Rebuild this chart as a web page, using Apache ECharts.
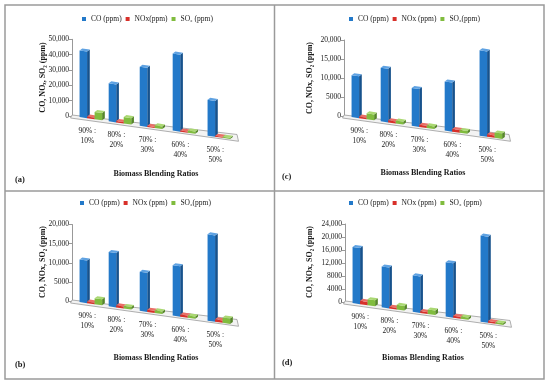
<!DOCTYPE html>
<html><head><meta charset="utf-8">
<script src="https://cdn.jsdelivr.net/npm/echarts/dist/echarts.min.js"></script>
<style>html,body{margin:0;padding:0;background:#fff}#c{width:550px;height:383px}</style>
</head><body><div id="c"></div>
<script>
// ---------- data ----------
const categories = ['90% :\n10%', '80% :\n20%', '70% :\n30%', '60% :\n40%', '50% :\n50%'];

const coA  = [42500, 23000, 34000, 42000, 18500];
const noxA = [1000, 900, 600, 700, 500];
const so2A = [4500, 3800, 1500, 1200, 600];

const coB  = [10900, 13200, 9000, 11000, 17900];
const noxB = [400, 500, 500, 500, 500];
const so2B = [1500, 600, 600, 500, 1100];

const coC  = [10800, 13100, 8800, 10800, 17800];
const noxC = [400, 500, 500, 600, 500];
const so2C = [1500, 700, 600, 600, 1100];

const coD  = [16900, 11700, 9900, 14000, 21000];
const noxD = [1000, 500, 500, 500, 400];
const so2D = [1800, 1300, 1200, 600, 400];

const tickLabelsA = ['0', '10,000', '20,000', '30,000', '40,000', '50,000'];
const tickLabelsB = ['0', '5000', '10,000', '15,000', '20,000'];
const tickLabelsC = ['0', '5000', '10,000', '15,000', '20,000'];
const tickLabelsD = ['0', '4000', '8000', '12,000', '16,000', '20,000', '24,000'];

const legendA = ['CO (ppm)', 'NOx(ppm)', 'SO\u2082 (ppm)'];
const legendB = ['CO (ppm)', 'NOx (ppm)', 'SO\u2082(ppm)'];
const legendC = ['CO (ppm)', 'NOx (ppm)', 'SO\u2082(ppm)'];
const legendD = ['CO (ppm)', 'NOx (ppm)', 'SO\u2082 (ppm)'];

const yTitleA = 'CO, NO\u2093, SO\u2082 (ppm)';
const yTitleOther = 'CO, NOx, SO\u2082 (ppm)';
const xTitleABC = 'Biomass Blending Ratios';
const xTitleD = 'Biomas Blending Ratios';

// ---------- layout ----------
const FONT = '"Liberation Serif", "Times New Roman", serif';
const panels = [
  {tag:'(a)', axisX:72,  y0:116, yTop:39.3, max:50000, interval:10000, ticks:tickLabelsA,
   co:coA, nox:noxA, so2:so2A, legend:legendA, legendLeft:82, legendTop:15,
   yTitle:yTitleA, yTitleX:43, yTitleY:77.5, xTitle:xTitleABC, xTitleX:156, xTitleY:174, tagX:15, tagY:180},
  {tag:'(c)', axisX:344, y0:116, yTop:40, max:20000, interval:5000, ticks:tickLabelsC,
   co:coC, nox:noxC, so2:so2C, legend:legendC, legendLeft:349, legendTop:15,
   yTitle:yTitleOther, yTitleX:310, yTitleY:78, xTitle:xTitleABC, xTitleX:423, xTitleY:173, tagX:282, tagY:176.5},
  {tag:'(b)', axisX:72,  y0:301, yTop:224.5, max:20000, interval:5000, ticks:tickLabelsB,
   co:coB, nox:noxB, so2:so2B, legend:legendB, legendLeft:80, legendTop:199,
   yTitle:yTitleOther, yTitleX:43, yTitleY:262, xTitle:xTitleABC, xTitleX:156, xTitleY:358, tagX:15, tagY:365},
  {tag:'(d)', axisX:345, y0:302, yTop:224, max:24000, interval:4000, ticks:tickLabelsD,
   co:coD, nox:noxD, so2:so2D, legend:legendD, legendLeft:349, legendTop:199,
   yTitle:yTitleOther, yTitleX:310, yTitleY:262, xTitle:xTitleD, xTitleX:423, xTitleY:358, tagX:282, tagY:363}
];

const COLORS = [
  ['#2379c9', '#17528c', '#5fa2e2'],   // CO
  ['#d8302a', '#97201b', '#ea6e66'],   // NOx
  ['#80bc3e', '#56862a', '#aad872']    // SO2
];
const AXIS_OFF = 5, WARP = 0.15, SLOPE = 0.145, PERSP = 0.3, DX = 2.7, DY = -2;

function geo(params, api, i) {
  const cs = params.coordSys;
  const axisX = cs.x - AXIS_OFF;
  const c0 = api.coord([i, 0]);
  const u = (c0[0] - cs.x) / cs.width;
  const uw = (1 - WARP) * u + WARP * u * u;
  const cx = cs.x + uw * cs.width;
  return {
    cs, axisX, c0, cx, band: api.size([1, 0])[0],
    base: x => c0[1] + SLOPE * (x - axisX),
    mag: x => 1 + PERSP * (x - axisX) / cs.width
  };
}

function barRender(k) {
  const col = COLORS[k];
  return function (params, api) {
    const i = api.value(0), v = api.value(1);
    const g = geo(params, api, i);
    const bw = g.band * 0.235;
    const xl = g.cx + (k - 1.5) * bw, xr = xl + bw;
    const top = api.coord([i, v]);
    const h = (g.c0[1] - top[1]) * g.mag((xl + xr) / 2);
    const bl = g.base(xl), br = g.base(xr);
    return {type: 'group', children: [
      {type: 'polygon', shape: {points: [[xr, br], [xr + DX, br + DY], [xr + DX, br + DY - h], [xr, br - h]]}, style: {fill: col[1]}},
      {type: 'polygon', shape: {points: [[xl, bl], [xr, br], [xr, br - h], [xl, bl - h]]}, style: {fill: col[0]}},
      {type: 'polygon', shape: {points: [[xl, bl - h], [xr, br - h], [xr + DX, br - h + DY], [xl + DX, bl - h + DY]]}, style: {fill: col[2]}}
    ]};
  };
}

function floorRender(params, api) {
  const cs = params.coordSys, axisX = cs.x - AXIS_OFF;
  const y0 = api.coord([0, 0])[1];
  const L = 165;
  const pts = [[axisX, y0 - 1], [axisX + L, y0 - 1 + 0.118 * L], [axisX + L + 1.5, y0 + 3 + 0.135 * L], [axisX - 1.5, y0 + 2]];
  return {type: 'polygon', shape: {points: pts}, style: {fill: '#f3f3f3', stroke: '#9a9a9a', lineWidth: 0.8}};
}

function labelRender(params, api) {
  const i = api.value(0);
  const g = geo(params, api, i);
  const x = g.cx - g.band * 0.235 + 4;
  return {type: 'text', x: x, y: g.base(x) + 8,
    style: {text: categories[i], fontFamily: FONT, fontSize: 7.5, fill: '#1a1a1a', align: 'center', verticalAlign: 'top', lineHeight: 10}};
}

const grids = [], xAxes = [], yAxes = [], series = [], legends = [], graphics = [];
panels.forEach((p, pi) => {
  grids.push({left: p.axisX + AXIS_OFF, top: p.yTop, width: 160, height: p.y0 - p.yTop, containLabel: false, outerBoundsMode: 'none'});
  xAxes.push({type: 'category', gridIndex: pi, data: categories, show: false});
  yAxes.push({type: 'value', gridIndex: pi, min: 0, max: p.max, interval: p.interval, offset: AXIS_OFF,
    axisLine: {show: true, lineStyle: {color: '#999', width: 1}},
    axisTick: {show: true, length: 3, lineStyle: {color: '#999'}},
    axisLabel: {fontFamily: FONT, fontSize: 7.5, color: '#1a1a1a', margin: 3,
      formatter: v => p.ticks[Math.round(v / p.interval)]},
    splitLine: {show: false}});
  series.push({type: 'custom', xAxisIndex: pi, yAxisIndex: pi, data: [[0, 0]], renderItem: floorRender, silent: true, z: 1});
  [p.co, p.nox, p.so2].forEach((vals, k) => {
    series.push({type: 'custom', name: p.legend[k], xAxisIndex: pi, yAxisIndex: pi,
      data: vals.map((v, i) => [i, v]), encode: {x: 0, y: 1},
      itemStyle: {color: COLORS[k][0]}, renderItem: barRender(k), z: 2 + k});
  });
  series.push({type: 'custom', xAxisIndex: pi, yAxisIndex: pi, data: categories.map((c, i) => [i, 0]),
    renderItem: labelRender, silent: true, z: 6});
  legends.push({left: p.legendLeft, top: p.legendTop, icon: 'rect', itemWidth: 4, itemHeight: 4,
    itemGap: 4, itemTextGap: 1.5, selectedMode: false, padding: 0,
    textStyle: {fontFamily: FONT, fontSize: 7.5, color: '#1a1a1a'},
    data: p.legend.map((n, k) => ({name: n, itemStyle: {color: COLORS[k][0]}}))});
  graphics.push({type: 'text', x: p.yTitleX, y: p.yTitleY, rotation: Math.PI / 2,
    style: {text: p.yTitle, fontFamily: FONT, fontSize: 8, fontWeight: 'bold', fill: '#1a1a1a', align: 'center', verticalAlign: 'middle'}});
  graphics.push({type: 'text', x: p.xTitleX, y: p.xTitleY,
    style: {text: p.xTitle, fontFamily: FONT, fontSize: 8, fontWeight: 'bold', fill: '#1a1a1a', align: 'center', verticalAlign: 'middle'}});
  graphics.push({type: 'text', x: p.tagX, y: p.tagY,
    style: {text: p.tag, fontFamily: FONT, fontSize: 8.5, fontWeight: 'bold', fill: '#1a1a1a', align: 'left', verticalAlign: 'middle'}});
});
graphics.push({type: 'rect', shape: {x: 5, y: 5, width: 539, height: 374}, style: {fill: 'none', stroke: '#9a9a9a', lineWidth: 1.5}});
graphics.push({type: 'line', shape: {x1: 274.5, y1: 5, x2: 274.5, y2: 379}, style: {stroke: '#9a9a9a', lineWidth: 1.5}});
graphics.push({type: 'line', shape: {x1: 5, y1: 191, x2: 544, y2: 191}, style: {stroke: '#9a9a9a', lineWidth: 1.5}});

const chart = echarts.init(document.getElementById('c'), null, {renderer: 'canvas'});
chart.setOption({
  animation: false,
  backgroundColor: '#fff',
  grid: grids, xAxis: xAxes, yAxis: yAxes, series: series, legend: legends,
  graphic: graphics
});
</script>
</body></html>
